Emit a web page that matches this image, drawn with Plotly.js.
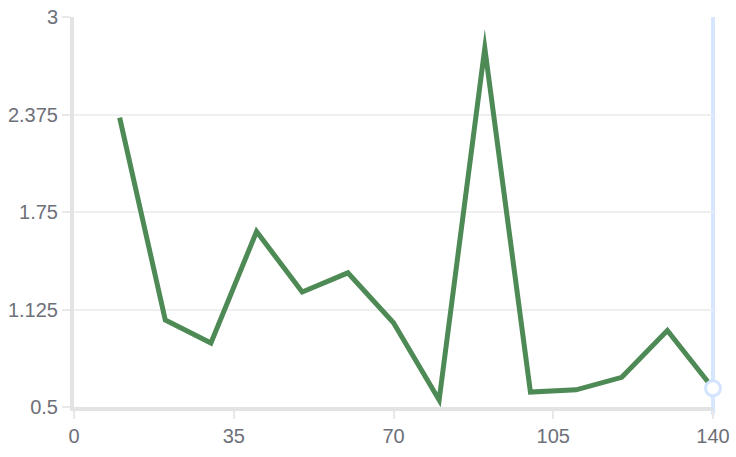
<!DOCTYPE html>
<html>
<head>
<meta charset="utf-8">
<script src="https://cdn.plot.ly/plotly-3.0.1.min.js"></script>
<style>
html,body{margin:0;padding:0;background:#fff;}
#chart{width:736px;height:457px;}
#chart path.js-line{stroke-linejoin:miter !important;stroke-miterlimit:10 !important;}
</style>
</head>
<body>
<div id="chart"></div>
<script>
const xValues = [10, 20, 30, 40, 50, 60, 70, 80, 90, 100, 110, 120, 130, 140];
const yValues = [2.355, 1.058, 0.91, 1.625, 1.237, 1.36, 1.04, 0.545, 2.8, 0.596, 0.61, 0.69, 0.99, 0.62];
const xTicks = [0, 35, 70, 105, 140];
const yTicks = [0.5, 1.125, 1.75, 2.375, 3];
const yTickText = ['0.5', '1.125', '1.75', '2.375', '3'];

const xRange = [0, 140];
const yRange = [0.5, 3];
const lastX = xValues[xValues.length - 1];
const lastY = yValues[yValues.length - 1];
const lastXPaper = (lastX - xRange[0]) / (xRange[1] - xRange[0]);

const traces = [
  {
    x: xValues, y: yValues, type: 'scatter', mode: 'lines',
    line: {color: '#4e8a55', width: 5},
    hoverinfo: 'skip'
  },
  {
    x: [lastX], y: [lastY], type: 'scatter', mode: 'markers',
    marker: {symbol: 'circle', size: 15, color: '#ffffff', line: {color: '#d3e4ff', width: 3}},
    hoverinfo: 'skip', cliponaxis: false
  }
];

const axisFont = {family: 'Liberation Sans, Arial, sans-serif', size: 20, color: '#6e7079'};

const layout = {
  width: 736, height: 457,
  margin: {l: 74, r: 23, t: 17, b: 50},
  paper_bgcolor: '#ffffff', plot_bgcolor: '#ffffff',
  showlegend: false,
  xaxis: {
    range: xRange, tickvals: xTicks, ticktext: xTicks.map(String),
    showgrid: false, zeroline: false,
    showline: true, linecolor: '#e3e3e3', linewidth: 4,
    ticks: 'outside', ticklen: 8, tickwidth: 2, tickcolor: '#e8e8e8',
    tickfont: axisFont
  },
  yaxis: {
    range: yRange, tickvals: yTicks, ticktext: yTickText,
    showgrid: true, gridcolor: '#efefef', gridwidth: 2, zeroline: false,
    showline: true, linecolor: '#e3e3e3', linewidth: 4,
    ticks: 'outside', ticklen: 8, tickwidth: 2, tickcolor: '#e8e8e8',
    tickfont: axisFont
  },
  shapes: [
    {type: 'line', xref: 'paper', yref: 'paper', x0: lastXPaper, x1: lastXPaper, y0: -0.02, y1: 1,
     line: {color: '#d6e6ff', width: 4}, layer: 'below'}
  ]
};

Plotly.newPlot('chart', traces, layout, {displayModeBar: false, staticPlot: true});
</script>
</body>
</html>
